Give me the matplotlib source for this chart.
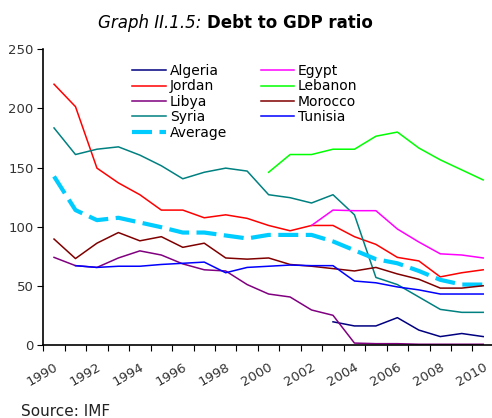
import numpy as np
import matplotlib
matplotlib.use('Agg')
import matplotlib.pyplot as plt

nan = np.nan
years = list(range(1990, 2011))

# debt to GDP, percent
algeria = [nan] * 13 + [19.5, 16, 16, 23, 12.5, 7, 9.6, 7]
egypt = [nan] * 12 + [101, 114, 113.5, 113.5, 98, 87, 77, 76, 73.5]
jordan = [220.5, 201.5, 149.5, 137, 127, 114, 114, 107.5, 110, 107, 101,
          96.5, 101, 101, 91.5, 85, 74, 71, 57.5, 61, 63.5]
lebanon = [nan] * 10 + [146, 161, 161, 165.5, 165.5, 176.5, 180, 166.5,
                        156.5, 148, 139.5]
libya = [74, 67, 65.5, 73.5, 79.5, 76, 68.5, 63.5, 62.5, 51, 43, 40.5,
         29.5, 25, 1.5, 1, 1, 0.5, 0.5, 0.5, 0.5]
morocco = [89.5, 73, 86, 95, 88, 91.5, 82.5, 86, 73.5, 72.5, 73.5, 68,
           66.5, 64.5, 62.5, 65.5, 60, 55.5, 48, 48, 50]
syria = [183.5, 161, 165.5, 167.5, 160.5, 151.5, 140.5, 146, 149.5, 147,
         127, 124.5, 120, 127, 110, 57, 51, 40.5, 30, 27.5, 27.5]
tunisia = [nan, 67, 65.5, 66.5, 66.5, 68, 69, 70, 61, 65.5, 66.5, 67.5,
           67, 67, 54, 52.5, 49, 46.5, 43, 43, 43]
average = [142.5, 114, 105.5, 107.5, 103.5, 99.5, 95, 95, 92.5, 90, 93,
           93, 93, 87.5, 80, 72.5, 69, 62.5, 55, 51, 51]

plt.rcParams['font.family'] = 'DejaVu Sans'

fig = plt.figure(figsize=(4.92, 4.18), dpi=100)
ax = fig.add_axes([0.088, 0.175, 0.912, 0.707])

x = np.arange(len(years))
lw = 1.1
ax.plot(x, algeria, color='#000080', lw=lw, label='Algeria')
ax.plot(x, jordan, color='#ff0000', lw=lw, label='Jordan')
ax.plot(x, libya, color='#800080', lw=lw, label='Libya')
ax.plot(x, syria, color='#008080', lw=lw, label='Syria')
ax.plot(x, average, color='#00ccff', lw=3, dashes=(4.8, 1.8), label='Average')
ax.plot(x, egypt, color='#ff00ff', lw=lw, label='Egypt')
ax.plot(x, lebanon, color='#00ff00', lw=lw, label='Lebanon')
ax.plot(x, morocco, color='#800000', lw=lw, label='Morocco')
ax.plot(x, tunisia, color='#0000ff', lw=lw, label='Tunisia')

ax.set_xlim(-0.5, 20.41)
ax.set_ylim(0, 250)
ax.set_yticks(range(0, 251, 50))
ax.tick_params(axis='y', direction='out', length=4, labelsize=9.5,
               color='black', labelcolor='#333333', pad=3)

# tick marks sit between categories, labels on every other year
ax.set_xticks(np.arange(-0.5, 20.5, 1.0))
ax.set_xticklabels([])
ax.tick_params(axis='x', direction='out', length=4, color='black')
for i, yr in enumerate(years):
    if yr % 2 == 0:
        ax.annotate(str(yr), xy=(i, 0), xycoords=('data', 'axes fraction'),
                    xytext=(0, -11), textcoords='offset points',
                    rotation=30, ha='right', va='top',
                    rotation_mode='anchor', fontsize=9.5, color='#333333')

for side in ('top', 'right'):
    ax.spines[side].set_visible(False)
for side in ('left', 'bottom'):
    ax.spines[side].set_linewidth(1.2)

ax.legend(ncol=2, frameon=False, fontsize=10, loc='upper left',
          bbox_to_anchor=(0.258, 0.86), bbox_transform=fig.transFigure,
          handlelength=2.4, handletextpad=0.3, labelspacing=0.1,
          columnspacing=2.4, borderaxespad=0)

fig.text(0.2, 0.945, 'Graph II.1.5:', fontsize=12, style='italic',
         ha='left', va='center')
fig.text(0.42, 0.945, 'Debt to GDP ratio', fontsize=12, fontweight='bold',
         ha='left', va='center')
fig.text(0.043, 0.016, 'Source: IMF', fontsize=11, color='#222222',
         ha='left', va='center')

fig.savefig('out.png', dpi=100)
